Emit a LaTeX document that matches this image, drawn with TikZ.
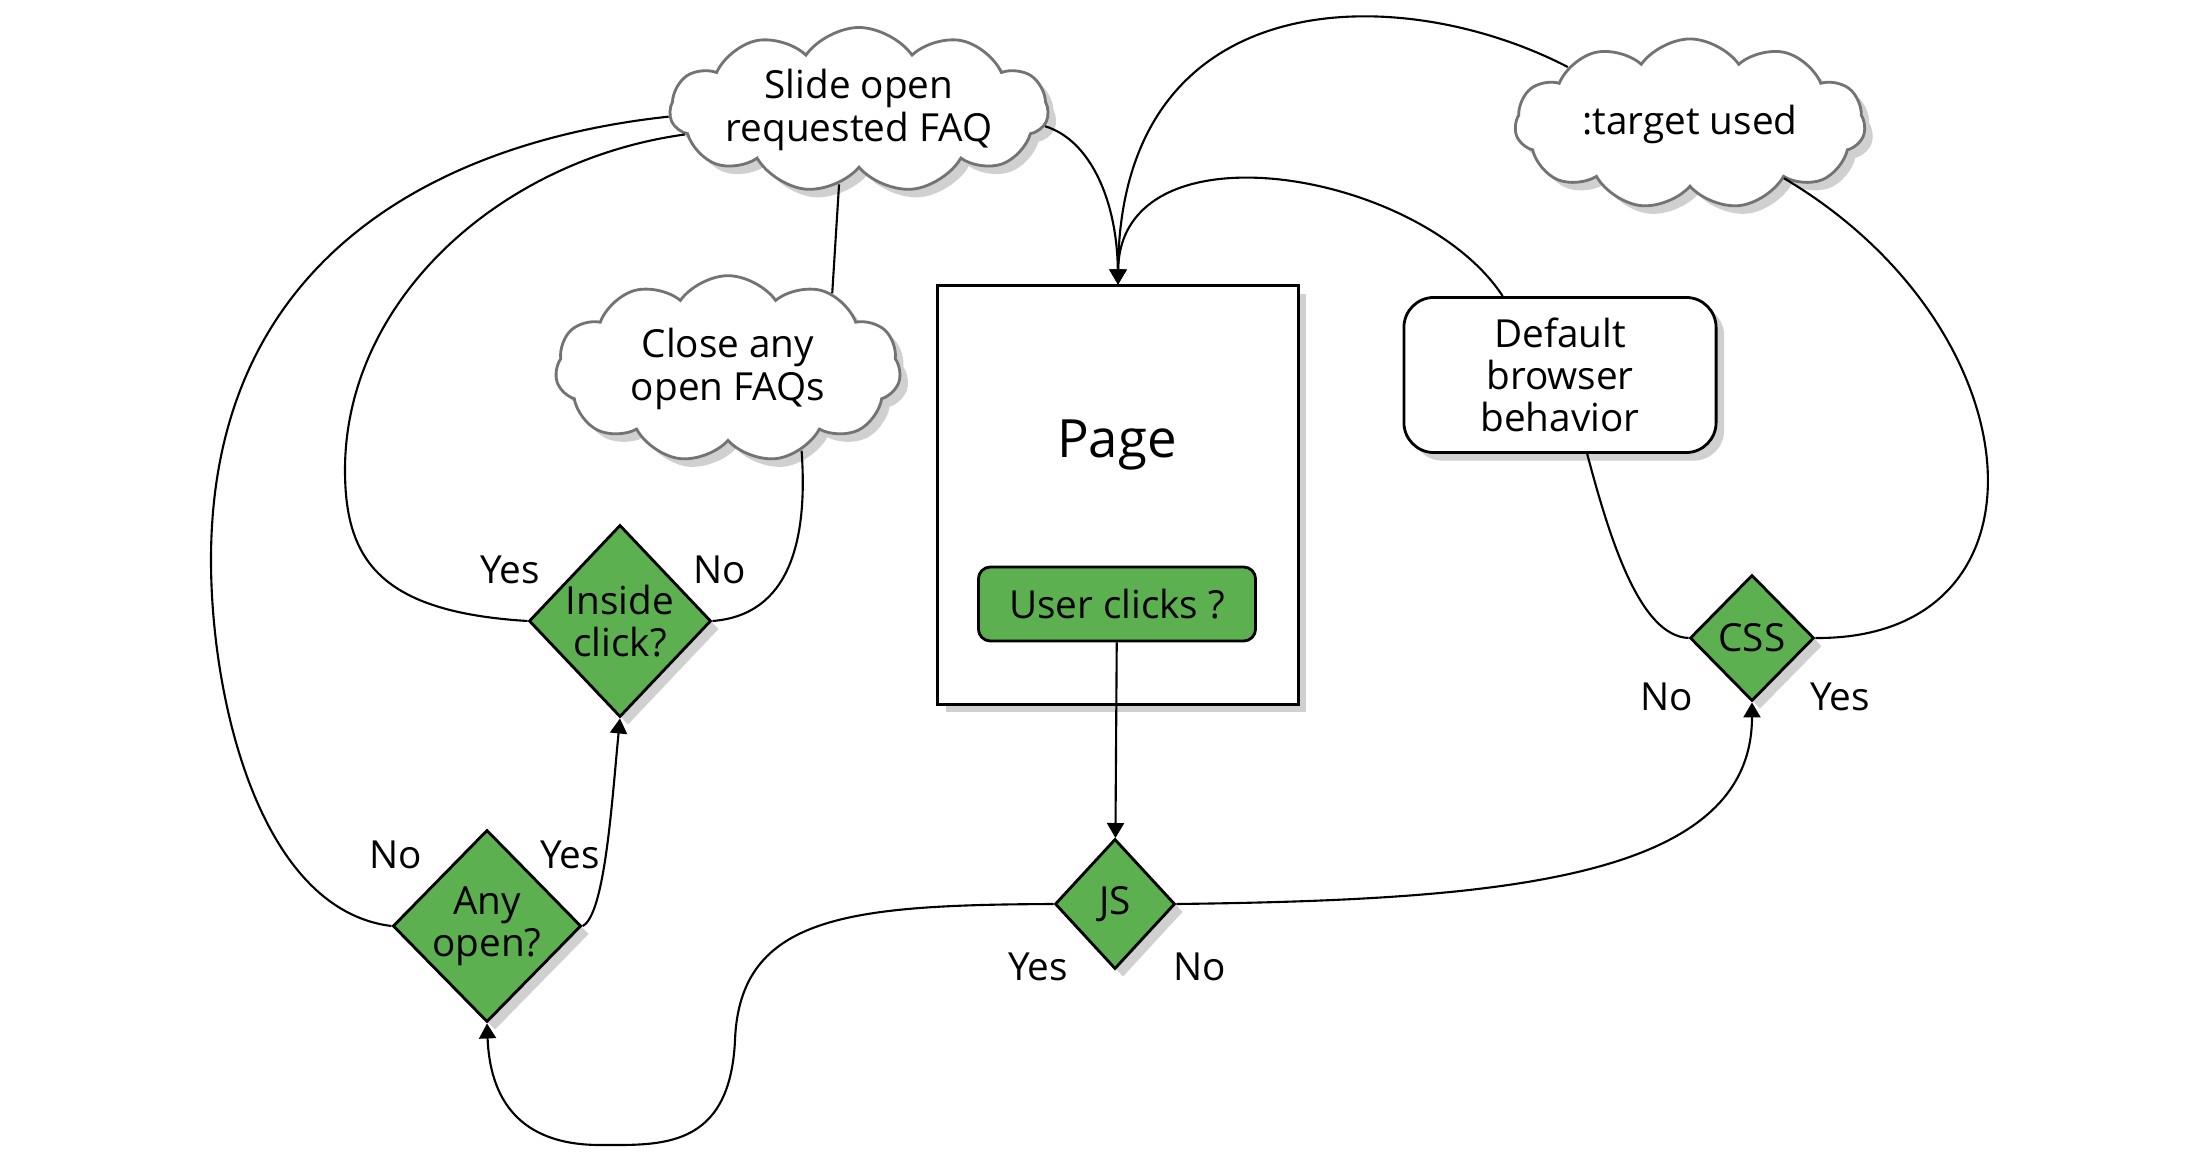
\documentclass[tikz,border=0pt]{standalone}
\usepackage{fontspec}
\setmainfont{Open Sans}
\usetikzlibrary{arrows.meta,shapes.geometric,shapes.symbols,shadows}
\definecolor{leaf}{HTML}{5CB050}
\definecolor{shade}{HTML}{D0D0D0}
\tikzset{shad/.style={drop shadow={shadow xshift=0.08cm,shadow yshift=-0.08cm,fill=shade,opacity=1}},
box/.style={draw,line width=0.8pt,fill=white,align=center},
dec/.style={diamond,draw,line width=0.8pt,fill=leaf,align=center,inner sep=0pt,shad},
puff/.style={cloud,cloud puffs=11,cloud puff arc=110,cloud ignores aspect,draw=gray!90!black,line width=0.8pt,fill=white,align=center,minimum width=3.5cm,minimum height=1.7cm,shad},
arr/.style={-{Triangle[length=0.15cm,width=0.17cm]}}}
\begin{document}
\begin{tikzpicture}[x=0.01cm,y=-0.01cm,font=\fontsize{11}{12}\selectfont,line width=0.6pt]
\useasboundingbox(0,0)rectangle(2208,1173);
\node[puff,inner sep=0pt,minimum width=3.3cm,minimum height=1.6cm](faq)at(859,110){Slide open\\requested FAQ};
\node[puff,minimum width=3.45cm,minimum height=1.6cm](close)at(728,369){Close any\\open FAQs};
\node[puff](target)at(1690,124){:target used};
\node[box,shad,minimum width=3.6cm,minimum height=4.18cm](page)at(1118,495){};
\node[font=\fontsize{15}{18}\selectfont](title)at(1117,445){Page};
\node[box,fill=leaf,rounded corners=0.12cm,minimum width=2.77cm,minimum height=0.74cm](clicks)at(1117,604){User clicks ?};
\node[box,shad,rounded corners=0.3cm,minimum width=3.12cm,minimum height=1.55cm](browser)at(1560,375){Default\\browser\\behavior};
\node[dec,minimum width=1.2cm,minimum height=1.3cm](js)at(1115,904){JS};
\node[dec,minimum width=1.82cm,minimum height=1.92cm](inside)at(620,621){Inside\\click?};
\node[dec,minimum width=1.82cm,minimum height=1.92cm](any)at(487,926){Any\\open?};
\node[dec,minimum width=1.24cm,minimum height=1.26cm](css)at(1752,638){CSS};
% branch labels
\node(insideyes)at(510,570){Yes};
\node(insideno)at(720,570){No};
\node(anyno)at(396,855){No};
\node(anyyes)at(570,855){Yes};
\node(jsyes)at(1038,967){Yes};
\node(jsno)at(1200,967){No};
\node(cssno)at(1667,697){No};
\node(cssyes)at(1840,697){Yes};
% connectors
\draw[arr](clicks)--(js);
\draw[arr](js.west)..controls(850,905)and(740,915)..(735,1040)..controls(730,1150)and(660,1145)..(600,1145)..controls(520,1145)and(490,1100)..(any.south);
\draw[arr](js.east)..controls(1500,900)and(1752,880)..(css.south);
\draw(any.west)..controls(260,910)and(211,700)..(211,560)..controls(211,250)and(450,140)..(faq.182);
\draw[arr](any.east)..controls(605,915)and(612,800)..(inside.south);
\draw(inside.west)..controls(380,612)and(345,560)..(345,470)..controls(345,300)and(500,160)..(faq.188);
\draw(inside.east)..controls(790,615)and(808,540)..(close.-48);
\draw(close.36)--(faq.-105);
\draw[arr](faq.-5)..controls(1090,140)and(1117,200)..(page.north);
\draw[arr](browser.126)..controls(1420,170)and(1120,120)..(page.north);
\draw[arr](target.155)..controls(1400,-20)and(1120,-20)..(page.north);
\draw(css.west)..controls(1640,636)and(1610,540)..(browser.-71);
\draw(css.east)..controls(2060,640)and(2040,330)..(target.-30);
\end{tikzpicture}
\end{document}
